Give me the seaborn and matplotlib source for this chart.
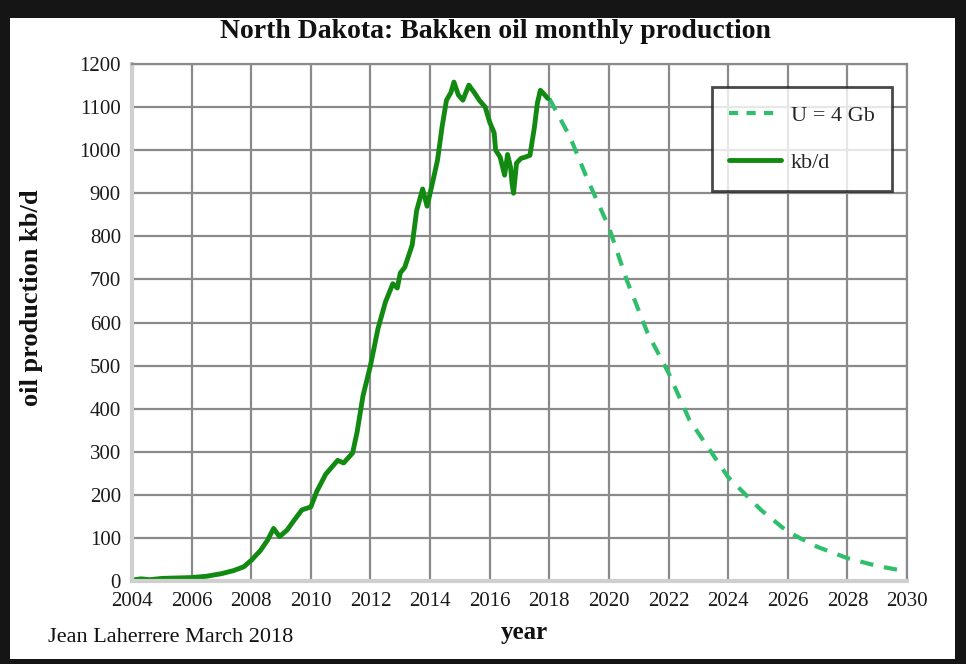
import matplotlib
matplotlib.use("Agg")
import matplotlib.pyplot as plt
from matplotlib.patches import Rectangle
from matplotlib.lines import Line2D
import seaborn as sns

# historical monthly production (kb/d)
hist_year = [2004.0, 2004.3, 2004.6, 2005.0, 2005.5, 2006.0, 2006.5, 2007.0, 2007.4, 2007.75,
             2008.0, 2008.3, 2008.55, 2008.75, 2008.95, 2009.2, 2009.45, 2009.7, 2010.0, 2010.2,
             2010.5, 2010.9, 2011.1, 2011.4, 2011.55, 2011.75, 2012.0, 2012.25, 2012.5, 2012.75,
             2012.9, 2013.0, 2013.15, 2013.4, 2013.55, 2013.75, 2013.9, 2014.1, 2014.25, 2014.4,
             2014.55, 2014.7, 2014.8, 2014.95, 2015.1, 2015.3, 2015.5, 2015.65, 2015.85, 2016.0,
             2016.15, 2016.2, 2016.35, 2016.5, 2016.6, 2016.7, 2016.75, 2016.8, 2016.9, 2017.05,
             2017.2, 2017.35, 2017.5, 2017.6, 2017.7, 2017.8, 2017.95]
hist_kbd = [2, 5, 3, 6, 7, 8, 11, 17, 24, 33,
            48, 70, 95, 122, 103, 118, 142, 165, 172, 208,
            248, 280, 274, 297, 345, 430, 500, 585, 647, 690,
            680, 715, 728, 780, 860, 910, 870, 930, 977, 1053,
            1116, 1134, 1158, 1128, 1116, 1151, 1132, 1116, 1100, 1065,
            1040, 1000, 984, 942, 990, 960, 923, 900, 970, 981,
            984, 988, 1053, 1109, 1139, 1132, 1120]

# forecast for U = 4 Gb
fc_year = [2018.0, 2018.7, 2019.25, 2020.0, 2020.6, 2021.3, 2022.0, 2022.7, 2024.0,
           2025.1, 2026.0, 2027.0, 2028.0, 2029.0, 2030.0]
fc_kbd = [1120, 1030, 937, 821, 698, 575, 483, 374, 241, 165, 114, 79, 53, 35, 22]

x_ticks = list(range(2004, 2031, 2))
y_ticks = list(range(0, 1201, 100))

sns.set_style("white")
plt.rcParams["font.family"] = ["Liberation Serif", "DejaVu Serif"]

fig = plt.figure(figsize=(9.66, 6.64), dpi=100, facecolor="#151515")
# white sheet inside the dark frame
fig.add_artist(Rectangle((10 / 966, 1 - 659 / 664), 945 / 966, 641 / 664,
                         transform=fig.transFigure, facecolor="white",
                         edgecolor="none", zorder=-10))

ax = fig.add_axes([132 / 966, 1 - 581 / 664, 775 / 966, 517 / 664])
ax.set_facecolor("white")

dark_green = "#128a12"
light_green = "#2fbf6c"

sns.lineplot(x=fc_year, y=fc_kbd, ax=ax, color=light_green, lw=3,
             sort=False, estimator=None)
ax.lines[-1].set_dashes((3.2, 2.6))
sns.lineplot(x=hist_year, y=hist_kbd, ax=ax, color=dark_green, lw=3.5,
             sort=False, estimator=None)

ax.set_xlim(2004, 2030)
ax.set_ylim(0, 1200)
ax.set_xticks(x_ticks)
ax.set_yticks(y_ticks)
ax.grid(True, color="#8a8a8a", lw=1.6)
ax.set_axisbelow(True)
for s in ["top", "right"]:
    ax.spines[s].set_color("#8a8a8a")
    ax.spines[s].set_linewidth(1.6)
for s in ["left", "bottom"]:
    ax.spines[s].set_color("#cfcfcf")
    ax.spines[s].set_linewidth(3)
ax.tick_params(direction="out", length=5, width=1.5, color="#8a8a8a",
               labelsize=15, labelcolor="#1a1a1a", pad=3)
ax.set_xlabel("")
ax.set_ylabel("")

handles = [Line2D([], [], color=light_green, lw=3, dashes=(2.2, 2.0)),
           Line2D([], [], color=dark_green, lw=3.5)]
leg = ax.legend(handles, ["U = 4 Gb", "kb/d"], loc="upper left",
                bbox_to_anchor=(0.748, 0.955), fontsize=16, frameon=True,
                fancybox=False, edgecolor="#1a1a1a", labelspacing=1.2,
                handlelength=2.3, handletextpad=0.45, borderpad=0.8,
                borderaxespad=0)
leg.get_frame().set_linewidth(2)

fig.text(495 / 966, 1 - 31 / 664, "North Dakota: Bakken oil monthly production",
         ha="center", va="center", fontsize=20, fontweight="bold", color="#111")
fig.text(32 / 966, 1 - 298 / 664, "oil production kb/d", rotation=90,
         ha="center", va="center", fontsize=19, fontweight="bold", color="#111")
fig.text(524 / 966, 1 - 633 / 664, "year", ha="center", va="center",
         fontsize=18, fontweight="bold", color="#111")
fig.text(48 / 966, 1 - 638 / 664, "Jean Laherrere March 2018", ha="left",
         va="center", fontsize=16, color="#111")

fig.savefig("out.png", dpi=100, facecolor=fig.get_facecolor())
